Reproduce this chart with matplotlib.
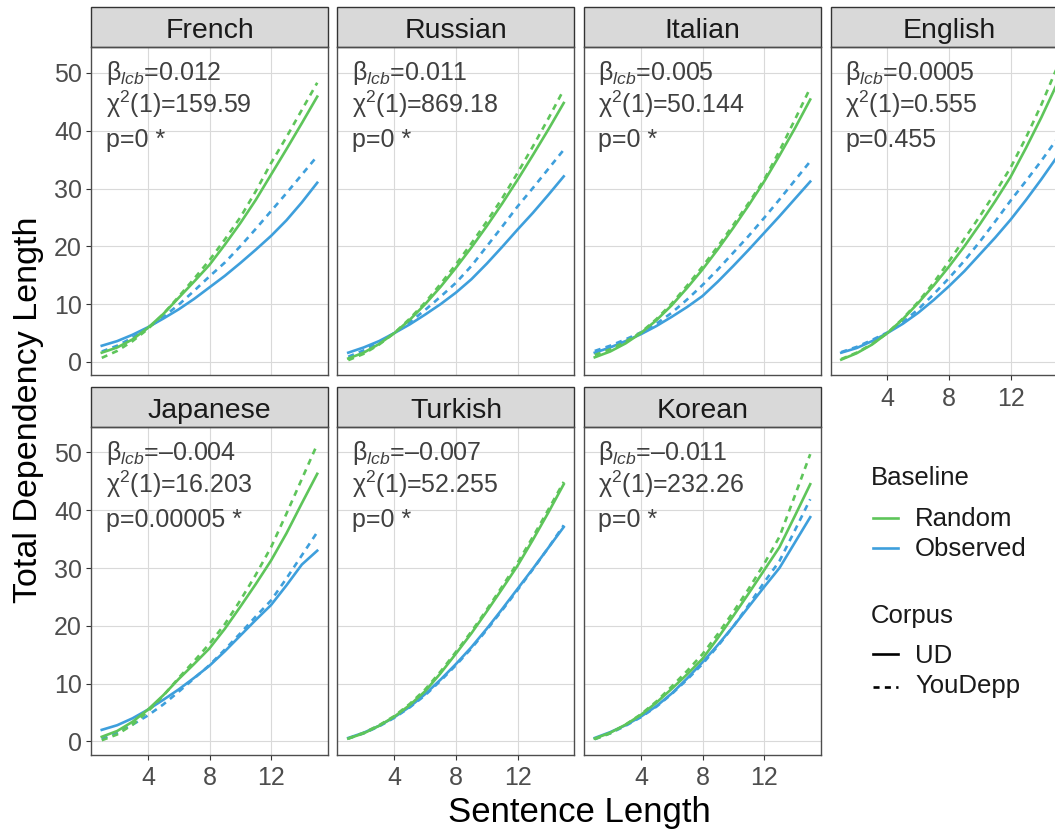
import matplotlib
matplotlib.use("Agg")
import matplotlib.pyplot as plt
from matplotlib.lines import Line2D
from matplotlib.patches import Rectangle

plt.rcParams["font.family"] = ["Liberation Sans", "DejaVu Sans"]
plt.rcParams["mathtext.fontset"] = "custom"
plt.rcParams["mathtext.rm"] = "Liberation Sans"
plt.rcParams["mathtext.it"] = "Liberation Sans:italic"

# ---- data ----
sentence_length = list(range(1, 16))
languages = ["French", "Russian", "Italian", "English", "Japanese", "Turkish", "Korean"]

french_random_ud = [1.6, 2.5, 3.9, 5.9, 8.3, 11.1, 13.9, 16.8, 20.3, 24.0, 28.0, 32.4, 36.8, 41.3, 45.9]
french_random_yd = [0.7, 1.9, 3.6, 5.7, 8.3, 11.3, 14.4, 17.6, 21.2, 25.0, 29.5, 34.4, 38.9, 43.6, 48.3]
french_observed_ud = [2.8, 3.6, 4.7, 6.0, 7.5, 9.1, 10.9, 12.9, 14.9, 17.1, 19.4, 21.8, 24.5, 27.6, 31.0]
french_observed_yd = [1.8, 2.8, 4.2, 5.9, 7.8, 9.9, 12.3, 14.8, 17.2, 20.0, 23.0, 26.1, 29.2, 32.4, 35.6]

russian_random_ud = [0.6, 1.6, 3.1, 5.0, 7.3, 10.0, 13.0, 16.3, 19.8, 23.5, 27.4, 31.5, 35.8, 40.2, 44.8]
russian_random_yd = [0.3, 1.4, 3.0, 5.0, 7.5, 10.3, 13.5, 16.9, 20.5, 24.3, 28.3, 32.7, 37.3, 42.1, 47.1]
russian_observed_ud = [1.6, 2.5, 3.6, 5.0, 6.5, 8.2, 10.0, 12.0, 14.3, 17.0, 19.9, 22.9, 25.8, 28.9, 32.1]
russian_observed_yd = [0.9, 2.0, 3.4, 5.0, 6.9, 9.0, 11.3, 13.7, 16.6, 20.0, 23.4, 26.9, 30.1, 33.4, 36.7]

italian_random_ud = [0.8, 1.8, 3.2, 5.0, 7.2, 9.8, 12.8, 16.0, 19.5, 23.2, 27.1, 31.2, 35.7, 40.4, 45.4]
italian_random_yd = [1.2, 2.2, 3.5, 5.1, 7.4, 10.1, 13.2, 16.5, 20.0, 23.7, 27.5, 31.5, 36.5, 41.9, 47.4]
italian_observed_ud = [1.6, 2.5, 3.6, 4.8, 6.2, 7.8, 9.5, 11.4, 13.9, 16.6, 19.4, 22.3, 25.2, 28.2, 31.2]
italian_observed_yd = [1.9, 2.8, 3.9, 5.1, 6.6, 8.5, 10.8, 13.3, 16.0, 18.9, 21.8, 24.9, 28.1, 31.4, 34.7]

english_random_ud = [0.4, 1.5, 3.0, 5.0, 7.4, 10.2, 13.2, 16.5, 20.0, 23.8, 27.8, 32.0, 37.0, 42.3, 48.0]
english_random_yd = [0.5, 1.6, 3.1, 5.0, 7.5, 10.4, 13.7, 17.4, 21.3, 25.2, 29.3, 33.6, 38.8, 44.5, 50.8]
english_observed_ud = [1.6, 2.4, 3.6, 5.0, 6.6, 8.5, 10.7, 13.1, 15.7, 18.6, 21.5, 24.6, 28.0, 31.6, 35.4]
english_observed_yd = [1.7, 2.6, 3.8, 5.1, 6.9, 9.1, 11.7, 14.5, 17.5, 20.8, 24.3, 27.9, 31.3, 34.8, 38.5]

japanese_random_ud = [0.8, 1.8, 3.4, 5.5, 8.0, 10.8, 13.4, 16.1, 19.5, 23.3, 27.2, 31.3, 36.0, 41.2, 46.3]
japanese_random_yd = [0.2, 1.2, 2.9, 5.2, 7.9, 11.0, 13.9, 16.9, 20.3, 24.4, 28.8, 33.6, 39.4, 45.4, 51.4]
japanese_observed_ud = [2.0, 2.8, 4.0, 5.5, 7.2, 9.0, 11.0, 13.1, 15.6, 18.3, 21.0, 23.6, 27.0, 30.6, 33.0]
japanese_observed_yd = [0.4, 1.5, 2.9, 4.5, 6.4, 8.6, 10.9, 13.2, 15.9, 18.7, 21.6, 24.4, 28.2, 32.2, 36.2]

turkish_random_ud = [0.5, 1.4, 2.7, 4.3, 6.3, 8.7, 11.8, 15.2, 18.7, 22.5, 26.4, 30.4, 34.9, 39.6, 44.5]
turkish_random_yd = [0.5, 1.5, 2.8, 4.4, 6.5, 9.0, 12.1, 15.5, 19.0, 22.8, 26.8, 30.9, 35.4, 40.1, 44.9]
turkish_observed_ud = [0.6, 1.5, 2.7, 4.2, 6.0, 8.2, 10.7, 13.4, 16.3, 19.5, 22.9, 26.4, 29.9, 33.5, 37.1]
turkish_observed_yd = [0.5, 1.4, 2.6, 4.1, 5.9, 8.0, 10.5, 13.2, 16.1, 19.3, 22.7, 26.2, 29.8, 33.5, 37.4]

korean_random_ud = [0.5, 1.5, 2.9, 4.6, 6.7, 9.1, 11.6, 14.3, 17.9, 21.7, 25.6, 29.6, 33.6, 39.0, 44.5]
korean_random_yd = [0.4, 1.4, 2.9, 4.7, 6.9, 9.5, 12.2, 15.1, 18.6, 22.4, 26.4, 30.7, 35.4, 42.5, 49.7]
korean_observed_ud = [0.6, 1.6, 2.8, 4.3, 6.1, 8.3, 10.9, 13.7, 16.7, 19.9, 23.3, 26.7, 30.0, 34.4, 38.8]
korean_observed_yd = [0.4, 1.4, 2.7, 4.2, 6.0, 8.2, 10.7, 13.4, 16.5, 19.9, 23.6, 27.5, 31.2, 36.5, 41.9]

beta_lcb = ["0.012", "0.011", "0.005", "0.0005", "\u20130.004", "\u20130.007", "\u20130.011"]
chi_sq = ["159.59", "869.18", "50.144", "0.555", "16.203", "52.255", "232.26"]
p_text = ["0 *", "0 *", "0 *", "0.455", "0.00005 *", "0 *", "0 *"]

series = {
    "French": (french_random_ud, french_random_yd, french_observed_ud, french_observed_yd),
    "Russian": (russian_random_ud, russian_random_yd, russian_observed_ud, russian_observed_yd),
    "Italian": (italian_random_ud, italian_random_yd, italian_observed_ud, italian_observed_yd),
    "English": (english_random_ud, english_random_yd, english_observed_ud, english_observed_yd),
    "Japanese": (japanese_random_ud, japanese_random_yd, japanese_observed_ud, japanese_observed_yd),
    "Turkish": (turkish_random_ud, turkish_random_yd, turkish_observed_ud, turkish_observed_yd),
    "Korean": (korean_random_ud, korean_random_yd, korean_observed_ud, korean_observed_yd),
}

GREEN = "#5EC55A"
BLUE = "#3E9FDC"
LW = 1.9
DASH = (2.3, 2.0)

# ---- layout (pixels) ----
W, H = 1055, 830
col_left = [91, 337.5, 584, 830.5]
panel_w = 237
row_top = [47.5, 427]
panel_h = 328
strip_h = 40

fig = plt.figure(figsize=(W / 100, H / 100), dpi=100)


def style_axes(ax, show_x, show_y):
    ax.set_xlim(0.3, 15.7)
    ax.set_ylim(-2.35, 54.4)
    ax.set_xticks([4, 8, 12])
    ax.set_yticks([0, 10, 20, 30, 40, 50])
    ax.grid(True, color="#D9D9D9", lw=0.8)
    ax.set_axisbelow(True)
    for sp in ax.spines.values():
        sp.set_color("#4D4D4D")
        sp.set_linewidth(1.0)
    ax.tick_params(axis="both", colors="#333333", labelcolor="#4D4D4D",
                   labelsize=18, length=3.5, width=0.8, pad=3)
    ax.tick_params(axis="x", bottom=show_x, labelbottom=show_x, pad=4.5)
    ax.tick_params(axis="y", left=show_y, labelleft=show_y)


for i, lang in enumerate(languages):
    r, c = divmod(i, 4)
    left = col_left[c]
    top = row_top[r]
    ax = fig.add_axes([left / W, 1 - (top + panel_h) / H, panel_w / W, panel_h / H])
    show_x = (r == 1) or (lang == "English")
    style_axes(ax, show_x, c == 0)

    rnd_ud, rnd_yd, obs_ud, obs_yd = series[lang]
    ax.plot(sentence_length, obs_ud, color=BLUE, lw=LW)
    ax.plot(sentence_length, obs_yd, color=BLUE, lw=LW, dashes=DASH)
    ax.plot(sentence_length, rnd_ud, color=GREEN, lw=LW)
    ax.plot(sentence_length, rnd_yd, color=GREEN, lw=LW, dashes=DASH)

    # facet strip
    sh = strip_h / panel_h
    ax.add_patch(Rectangle((0, 1), 1, sh, transform=ax.transAxes, clip_on=False,
                           facecolor="#D9D9D9", edgecolor="#333333", lw=1.0))
    ax.text(0.5, 1 + 9 / panel_h, lang, transform=ax.transAxes, ha="center",
            va="baseline", fontsize=20.5, color="#1A1A1A")

    # stats annotation
    tx = 14.5 / panel_w
    txt_kw = dict(transform=ax.transAxes, ha="left", va="baseline",
                  fontsize=18, color="#404040")
    ax.text(tx, 1 - 32.5 / panel_h, "\u03b2$_{lcb}$=" + beta_lcb[i], **txt_kw)
    ax.text(tx, 1 - 66 / panel_h, "\u03c7$^{2}$(1)=" + chi_sq[i], **txt_kw)
    ax.text(tx, 1 - 99.5 / panel_h, "p=" + p_text[i], **txt_kw)

# ---- legend ----
def fy(py):
    return 1 - py / H


leg_kw = dict(fontsize=18.5, color="#1A1A1A", ha="left", va="baseline")
fig.text(870.5 / W, fy(485), "Baseline", **leg_kw)
fig.add_artist(Line2D([873 / W, 898 / W], [fy(518), fy(518)], transform=fig.transFigure,
                      color=GREEN, lw=LW))
fig.text(915 / W, fy(526.5), "Random", **leg_kw)
fig.add_artist(Line2D([873 / W, 898 / W], [fy(548), fy(548)], transform=fig.transFigure,
                      color=BLUE, lw=LW))
fig.text(915 / W, fy(556.5), "Observed", **leg_kw)

fig.text(870.5 / W, fy(623), "Corpus", **leg_kw)
fig.add_artist(Line2D([873 / W, 898 / W], [fy(654), fy(654)], transform=fig.transFigure,
                      color="black", lw=LW))
fig.text(915 / W, fy(663), "UD", **leg_kw)
fig.add_artist(Line2D([873 / W, 898 / W], [fy(686.5), fy(686.5)], transform=fig.transFigure,
                      color="black", lw=LW, dashes=DASH))
fig.text(915 / W, fy(693), "YouDepp", **leg_kw)

# ---- axis titles ----
fig.text(579.5 / W, fy(822), "Sentence Length", ha="center", va="baseline", fontsize=25)
fig.text(37.5 / W, fy(410), "Total Dependency Length", rotation=90, rotation_mode="anchor",
         ha="center", va="baseline", fontsize=24.5)

fig.savefig("out.png", dpi=100)
